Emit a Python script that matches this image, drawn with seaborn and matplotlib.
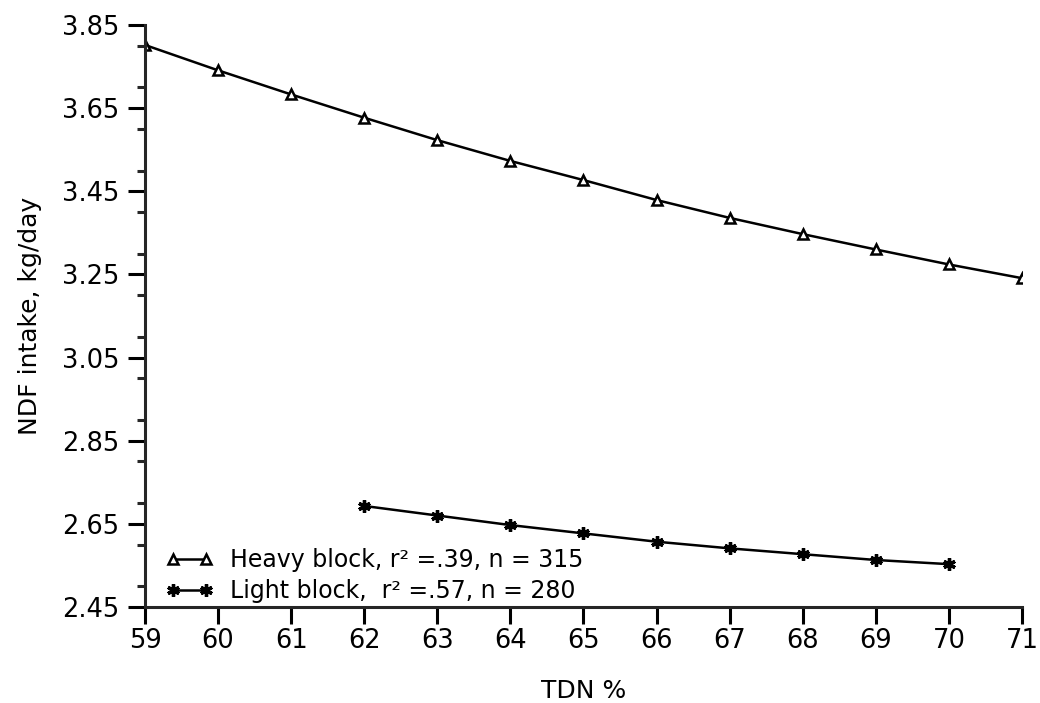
import matplotlib
matplotlib.use("Agg")
import matplotlib.pyplot as plt
import pandas as pd
import seaborn as sns
from matplotlib.ticker import MultipleLocator

# values
tdn_heavy = [59, 60, 61, 62, 63, 64, 65, 66, 67, 68, 69, 70, 71]
ndf_heavy = [3.802, 3.741, 3.683, 3.627, 3.573, 3.523, 3.477, 3.429, 3.386, 3.347, 3.310, 3.274, 3.241]

tdn_light = [62, 63, 64, 65, 66, 67, 68, 69, 70]
ndf_light = [2.693, 2.670, 2.647, 2.627, 2.607, 2.591, 2.577, 2.563, 2.553]

label_heavy = "Heavy block, r² =.39, n = 315"
label_light = "Light block,  r² =.57, n = 280"

y_ticks = [2.45, 2.65, 2.85, 3.05, 3.25, 3.45, 3.65, 3.85]
x_ticks = list(range(59, 72))

heavy_df = pd.DataFrame({"tdn": tdn_heavy, "ndf": ndf_heavy})
light_df = pd.DataFrame({"tdn": tdn_light, "ndf": ndf_light})

sns.set_style("ticks")
plt.rcParams['font.family'] = ['DejaVu Sans']

fig = plt.figure(figsize=(10.4, 7.03), dpi=100)
ax = fig.add_axes([0.1394, 0.1366, 0.8433, 0.8278])

sns.lineplot(data=heavy_df, x="tdn", y="ndf", ax=ax, color="black", lw=1.8,
             marker="^", markersize=7.5, markerfacecolor="white",
             markeredgecolor="black", markeredgewidth=1.8, label=label_heavy)
sns.lineplot(data=light_df, x="tdn", y="ndf", ax=ax, color="black", lw=1.8,
             marker=(6, 2, 0), markersize=9, markeredgecolor="black",
             markeredgewidth=2.4, label=label_light)

ax.set_xlim(59, 71)
ax.set_ylim(2.45, 3.85)
ax.set_xticks(x_ticks)
ax.set_yticks(y_ticks)
ax.set_yticklabels([f"{v:.2f}" for v in y_ticks])
ax.yaxis.set_minor_locator(MultipleLocator(0.1))

sns.despine(ax=ax)
for s in ["left", "bottom"]:
    ax.spines[s].set_linewidth(2.2)
ax.tick_params(axis="both", which="major", direction="out", length=12.5,
               width=2.2, labelsize=18.5, colors="black")
ax.tick_params(axis="x", which="major", pad=3)
ax.tick_params(axis="y", which="major", pad=6)
ax.tick_params(axis="y", which="minor", direction="out", length=6, width=2.2)

ax.set_xlabel("TDN %", fontsize=18, labelpad=18, color="black")
ax.set_ylabel("NDF intake, kg/day", fontsize=18, labelpad=14, color="black")

ax.legend(loc="lower left", bbox_to_anchor=(0.0, -0.03), frameon=False,
          numpoints=2, fontsize=17, handlelength=2.0, handletextpad=0.7,
          labelspacing=0.3, borderaxespad=0.5, labelcolor="black")

fig.savefig("out.png", dpi=100)
